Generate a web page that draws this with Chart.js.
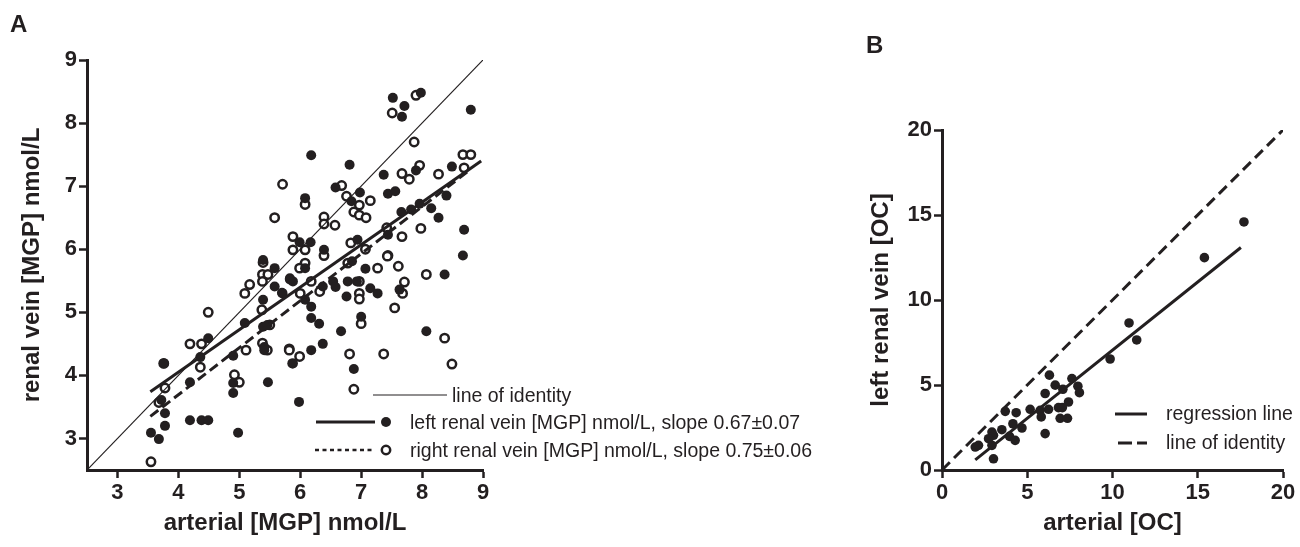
<!DOCTYPE html>
<html>
<head>
<meta charset="utf-8">
<script src="https://cdn.jsdelivr.net/npm/chart.js@4.4.1/dist/chart.umd.min.js"></script>
<style>
  html, body { margin: 0; padding: 0; background: #fff; }
  #wrap { position: relative; width: 1300px; height: 547px; background: #fff; overflow: hidden;
          font-family: 'Liberation Sans', Arial, sans-serif; color: #231f20; }
  .box { position: absolute; top: 0; }
  .lbl { position: absolute; font-size: 19.5px; line-height: 22px; white-space: nowrap; }
  .panel { position: absolute; font-size: 24px; font-weight: bold; line-height: 28px; }
  svg { position: absolute; left: 0; top: 0; pointer-events: none; }
</style>
</head>
<body>
<div id="wrap">
  <div class="box" style="left:0;width:520px;height:547px"><canvas id="chartA" width="520" height="547"></canvas></div>
  <div class="box" style="left:860px;width:440px;height:547px"><canvas id="chartB" width="440" height="547"></canvas></div>
  <div class="panel" style="left:10px;top:10px">A</div>
  <div class="panel" style="left:866px;top:31px">B</div>

  <svg width="1300" height="547">
    <line x1="373" y1="395" x2="447" y2="395" stroke="#231f20" stroke-width="1.2"/>
    <line x1="316" y1="422" x2="375" y2="422" stroke="#231f20" stroke-width="3"/>
    <circle cx="386" cy="422" r="5" fill="#231f20"/>
    <line x1="315" y1="450" x2="375" y2="450" stroke="#231f20" stroke-width="2.5" stroke-dasharray="4 3.5"/>
    <circle cx="386" cy="450" r="4.2" fill="#fff" stroke="#231f20" stroke-width="2.5"/>
    <line x1="1115" y1="414" x2="1147" y2="414" stroke="#231f20" stroke-width="3"/>
    <line x1="1118" y1="443" x2="1147" y2="443" stroke="#231f20" stroke-width="3" stroke-dasharray="14 5"/>
  </svg>
  <div class="lbl" style="left:452px;top:384px">line of identity</div>
  <div class="lbl" style="left:410px;top:411px">left renal vein [MGP] nmol/L, slope 0.67±0.07</div>
  <div class="lbl" style="left:410px;top:439px">right renal vein [MGP] nmol/L, slope 0.75±0.06</div>
  <div class="lbl" style="left:1166px;top:402px">regression line</div>
  <div class="lbl" style="left:1166px;top:431px">line of identity</div>
</div>
<script>
// ---------- Panel A data ----------
const ticksAx = [3, 4, 5, 6, 7, 8, 9];
const ticksAy = [3, 4, 5, 6, 7, 8, 9];
const leftVeinA = [
  [7.52,8.40],[7.71,8.27],[7.67,8.10],[7.98,8.48],[8.80,8.21],[6.18,7.49],[6.81,7.34],[8.49,7.31],
  [7.90,7.25],[7.37,7.18],[6.58,6.98],[6.98,6.90],[6.84,6.76],[7.44,6.88],[7.56,6.92],[6.08,6.81],
  [5.99,6.11],[6.17,6.11],[6.39,5.99],[6.94,6.15],[7.66,6.59],[7.82,6.63],[7.96,6.72],[8.27,6.50],
  [7.44,6.23],[8.69,6.31],[8.67,5.90],[8.15,6.65],[8.40,6.85],
  [6.08,5.70],[6.85,5.81],[7.07,5.69],[7.63,5.36],[8.37,5.60],[5.83,5.54],[5.88,5.49],[5.71,5.30],
  [6.08,5.20],[6.18,5.09],[6.18,4.91],[6.31,4.82],[6.37,5.41],[6.54,5.49],[6.58,5.40],[6.78,5.49],
  [6.93,5.49],[6.76,5.25],[7.15,5.38],[7.27,5.30],[7.00,4.93],[6.67,4.70],[6.37,4.50],[6.18,4.40],
  [5.88,4.19],[6.88,4.10],[8.07,4.70],[5.98,3.58],
  [5.58,5.70],[5.58,5.41],[5.70,5.31],[5.83,5.52],[5.39,5.20],[5.09,4.83],[5.39,4.77],[5.46,4.80],
  [4.49,4.59],[4.36,4.29],[3.76,4.19],[3.72,3.61],[3.78,3.40],[3.78,3.20],[3.55,3.09],[3.68,2.99],
  [4.19,3.89],[4.19,3.29],[4.38,3.29],[4.49,3.29],[4.90,4.31],[4.90,3.88],[4.90,3.72],[5.47,3.89],
  [4.98,3.09],[5.41,4.45],[5.41,4.40],[5.87,4.19],[5.39,5.83]
];
const rightVeinA = [
  [7.51,8.16],[7.90,8.44],[7.87,7.70],[8.67,7.50],[8.80,7.50],[8.69,7.29],[7.96,7.33],[7.67,7.20],
  [7.79,7.11],[8.27,7.19],[5.71,7.03],[6.68,7.01],[6.76,6.84],[6.97,6.70],[7.15,6.77],[6.08,6.71],
  [6.88,6.59],[6.97,6.54],[7.08,6.50],[6.39,6.51],[6.39,6.40],[6.57,6.38],[5.88,6.20],[5.88,5.99],
  [6.08,5.99],[6.83,6.10],[7.07,6.00],[7.98,6.33],[7.67,6.20],[7.44,5.90],[7.42,6.34],
  [6.08,5.78],[5.99,5.70],[6.78,5.78],[7.27,5.70],[7.43,5.89],[7.61,5.73],[7.71,5.48],[7.68,5.30],
  [8.07,5.60],[7.55,5.07],[6.00,5.30],[6.18,5.49],[6.32,5.33],[6.97,5.49],[6.97,5.30],[6.97,5.21],
  [7.00,4.82],[5.82,4.42],[5.99,4.30],[6.81,4.34],[6.88,3.78],[7.37,4.34],[8.37,4.59],[8.49,4.18],
  [6.39,5.90],
  [5.39,5.79],[5.38,5.60],[5.47,5.60],[5.38,5.49],[5.17,5.44],[5.09,5.30],[5.37,5.04],[5.50,4.80],
  [4.49,5.00],[4.19,4.50],[4.38,4.50],[4.36,4.13],[3.76,4.19],[3.78,3.80],[3.68,3.57],[3.55,2.63],
  [5.11,4.40],[4.92,4.01],[5.00,3.89],[5.38,4.51],[5.46,4.40],[5.82,4.40],[5.58,6.50]
];
const identityA = [[2.5,2.5],[9,9]];
const leftFitA = [[3.54,3.74],[8.97,7.40]];
const rightFitA = [[3.54,3.35],[8.80,7.27]];

// ---------- Panel B data ----------
const ticksBx = [0, 5, 10, 15, 20];
const ticksBy = [0, 5, 10, 15, 20];
const ocPoints = [
  [17.71,14.59],[15.39,12.49],[10.97,8.65],[11.42,7.65],[9.86,6.53],[6.30,5.58],[7.62,5.38],[6.64,4.99],
  [7.09,4.75],[7.97,4.93],[8.06,4.55],[6.05,4.50],[7.42,4.00],[6.83,3.67],[7.06,3.67],[6.25,3.57],
  [5.76,3.51],[5.17,3.57],[5.82,3.12],[6.93,3.04],[7.36,3.04],[4.35,3.37],[3.71,3.45],[4.16,2.72],
  [4.69,2.47],[3.51,2.37],[2.93,2.23],[3.02,2.04],[3.96,1.98],[2.73,1.84],[4.29,1.74],[6.05,2.14],
  [2.93,1.45],[1.95,1.35],[2.14,1.45],[3.02,0.66]
];
const identityB = [[0,0],[20,20]];
const fitB = [[1.95,0.60],[17.53,13.09]];

// ---------- helpers ----------
const INK = '#231f20';
const FONT = "'Liberation Sans', Arial, sans-serif";
Chart.defaults.font.family = FONT;
Chart.defaults.color = INK;
const pts = arr => arr.map(p => ({x: p[0], y: p[1]}));

function axis(min, max, tickVals, fixed, isX, titleText, titlePad) {
  return {
    type: 'linear', min, max,
    afterBuildTicks: s => { s.ticks = tickVals.map(v => ({value: v})); },
    afterFit: s => { if (isX) s.height = fixed; else s.width = fixed; },
    grid: { display: true, drawOnChartArea: false, drawTicks: true, tickLength: 8,
            tickWidth: 2.5, tickColor: INK, color: INK },
    border: { display: true, width: 3, color: INK },
    ticks: { font: { size: 22, weight: 'bold' }, color: INK, padding: 2 },
    title: { display: true, text: titleText, color: INK,
             font: { size: 24, weight: 'bold' }, padding: titlePad }
  };
}
const lineDs = (data, width, dash) => ({
  type: 'line', data: pts(data), borderColor: INK, borderWidth: width,
  borderDash: dash || [], pointRadius: 0, fill: false, tension: 0
});

new Chart(document.getElementById('chartA'), {
  type: 'scatter',
  data: { datasets: [
    lineDs(identityA, 1.2),
    lineDs(leftFitA, 3),
    lineDs(rightFitA, 3, [10, 5]),
    { data: pts(leftVeinA), backgroundColor: INK, borderWidth: 0, pointRadius: 5 },
    { data: pts(rightVeinA), backgroundColor: '#fff', borderColor: INK, borderWidth: 2.5, pointRadius: 4.2 }
  ]},
  options: {
    responsive: false, animation: false, events: [],
    layout: { padding: { top: 60, right: 37, bottom: 0, left: 0 } },
    plugins: { legend: { display: false }, tooltip: { enabled: false } },
    scales: {
      x: axis(2.5, 9, ticksAx, 77, true, 'arterial [MGP] nmol/L', { top: 0, bottom: 9 }),
      y: axis(2.5, 9, ticksAy, 87, false, 'renal vein [MGP] nmol/L', { top: 18, bottom: 0 })
    }
  }
});

new Chart(document.getElementById('chartB'), {
  type: 'scatter',
  data: { datasets: [
    lineDs(identityB, 3, [11, 6]),
    lineDs(fitB, 3),
    { data: pts(ocPoints), backgroundColor: INK, borderWidth: 0, pointRadius: 4.8 }
  ]},
  options: {
    responsive: false, animation: false, events: [],
    layout: { padding: { top: 130, right: 17, bottom: 0, left: 0 } },
    plugins: { legend: { display: false }, tooltip: { enabled: false } },
    scales: {
      x: axis(0, 20, ticksBx, 77, true, 'arterial [OC]', { top: 0, bottom: 9 }),
      y: axis(0, 20, ticksBy, 82, false, 'left renal vein [OC]', { top: 7, bottom: 0 })
    }
  }
});
</script>
</body>
</html>
